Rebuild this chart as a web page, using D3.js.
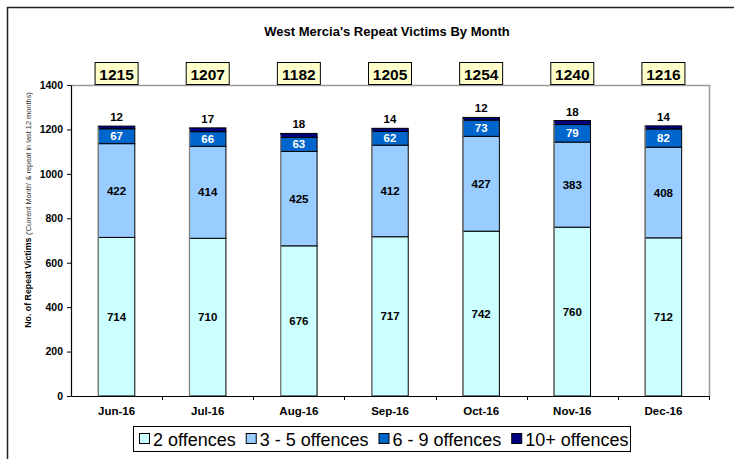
<!DOCTYPE html>
<html>
<head>
<meta charset="utf-8">
<script src="https://cdn.jsdelivr.net/npm/d3@7"></script>
<style>
  body { margin: 0; background: #fff; }
  svg { display: block; font-family: Arial, "Liberation Sans", sans-serif; }
</style>
</head>
<body>
<div id="chart"></div>
<script>
// data
var months = ["Jun-16", "Jul-16", "Aug-16", "Sep-16", "Oct-16", "Nov-16", "Dec-16"];
var twoOff = [714, 710, 676, 717, 742, 760, 712];
var threeToFive = [422, 414, 425, 412, 427, 383, 408];
var sixToNine = [67, 66, 63, 62, 73, 79, 82];
var tenPlus = [12, 17, 18, 14, 12, 18, 14];
var totals = [1215, 1207, 1182, 1205, 1254, 1240, 1216];
var seriesNames = ["2 offences", "3 - 5 offences", "6 - 9 offences", "10+ offences"];
var yTicks = [0, 200, 400, 600, 800, 1000, 1200, 1400];

var colours = ["#CCFFFF", "#99CCFF", "#0066CC", "#000080"];
var labelColours = ["#000", "#000", "#fff", "#000"];

var width = 734, height = 459;
var plot = {left: 71, right: 709, top: 85, bottom: 396};
var font = "Arial, 'Liberation Sans', sans-serif";

var svg = d3.select("#chart").append("svg")
    .attr("width", width)
    .attr("height", height);

// outer frame
svg.append("rect")
    .attr("x", 7.5).attr("y", 7.5)
    .attr("width", 760).attr("height", 480)
    .attr("fill", "none")
    .attr("stroke", "#222")
    .attr("stroke-width", 1.5);

var x = d3.scaleBand().domain(months).range([plot.left, plot.right]).paddingInner(0.6).paddingOuter(0.3);
var xb = d3.scaleBand().domain(months).range([plot.left, plot.right]);
var y = d3.scaleLinear().domain([0, 1400]).range([plot.bottom, plot.top]);

// plot area border (grey top + right)
svg.append("path")
    .attr("d", "M" + plot.left + "," + (plot.top + 0.5) + "H" + (plot.right + 0.5) + "V" + plot.bottom)
    .attr("fill", "none")
    .attr("stroke", "#999")
    .attr("stroke-width", 1.5);

// stack the series
var rows = months.map(function (m, i) {
    return {month: m, s0: twoOff[i], s1: threeToFive[i], s2: sixToNine[i], s3: tenPlus[i]};
});
var stack = d3.stack().keys(["s0", "s1", "s2", "s3"])(rows);

var layers = svg.selectAll("g.layer")
    .data(stack)
    .enter().append("g")
    .attr("class", "layer")
    .attr("fill", function (d, i) { return colours[i]; });

layers.selectAll("rect")
    .data(function (d) { return d; })
    .enter().append("rect")
    .attr("x", function (d) { return x(d.data.month); })
    .attr("y", function (d) { return y(d[1]); })
    .attr("width", x.bandwidth())
    .attr("height", function (d) { return y(d[0]) - y(d[1]); })
    .attr("stroke", "#000")
    .attr("stroke-width", 1);

// grey shade on the left edge of each bar
svg.append("g").selectAll("line")
    .data(months)
    .enter().append("line")
    .attr("x1", function (d) { return x(d); })
    .attr("x2", function (d) { return x(d); })
    .attr("y1", function (d, i) { return y(totals[i]) + 1; })
    .attr("y2", plot.bottom)
    .attr("stroke", "#808080")
    .attr("stroke-width", 1.2);

// segment labels
stack.forEach(function (layer, li) {
    svg.append("g").selectAll("text")
        .data(layer)
        .enter().append("text")
        .attr("x", function (d) { return x(d.data.month) + x.bandwidth() / 2; })
        .attr("y", function (d) {
            if (li === 3) return y(d[1]) - 5;
            return (y(d[0]) + y(d[1])) / 2 + 4;
        })
        .attr("text-anchor", "middle")
        .attr("font-size", "11.5px")
        .attr("font-weight", "bold")
        .attr("fill", labelColours[li])
        .text(function (d) { return d[1] - d[0]; });
});

// total boxes
var tb = svg.append("g").selectAll("g")
    .data(months)
    .enter().append("g")
    .attr("transform", function (d) {
        return "translate(" + (x(d) + x.bandwidth() / 2) + ",0)";
    });
tb.append("rect")
    .attr("x", -21.5).attr("y", 62.5)
    .attr("width", 43).attr("height", 22)
    .attr("fill", "#FFFFCC")
    .attr("stroke", "#000")
    .attr("stroke-width", 1);
tb.append("text")
    .attr("y", 79.5)
    .attr("text-anchor", "middle")
    .attr("font-size", "15.5px")
    .attr("font-weight", "bold")
    .text(function (d, i) { return totals[i]; });

// y axis
var yAxis = svg.append("g")
    .attr("transform", "translate(" + plot.left + ",0)")
    .call(d3.axisLeft(y).tickValues(yTicks).tickFormat(d3.format("d"))
        .tickSize(4).tickSizeOuter(0).tickPadding(4));
yAxis.select(".domain").attr("stroke", "#000").attr("stroke-width", 1.2);
yAxis.selectAll("text").attr("font-size", "10.5px").attr("font-weight", "bold")
    .attr("font-family", font).attr("fill", "#000");

// x axis
var xAxis = svg.append("g")
    .attr("transform", "translate(0," + plot.bottom + ")")
    .call(d3.axisBottom(xb).tickSize(0).tickPadding(11));
xAxis.select(".domain").attr("stroke", "#000").attr("stroke-width", 1.2);
xAxis.selectAll("text").attr("font-size", "11.5px").attr("font-weight", "bold")
    .attr("font-family", font).attr("fill", "#000");
// tick marks between categories
svg.append("g").selectAll("line")
    .data(months)
    .enter().append("line")
    .attr("x1", function (d, i) { return Math.round(xb(d) + xb.step()) + 0.5; })
    .attr("x2", function (d, i) { return Math.round(xb(d) + xb.step()) + 0.5; })
    .attr("y1", plot.bottom)
    .attr("y2", plot.bottom + 4)
    .attr("stroke", "#000");

// title
svg.append("text")
    .attr("x", 387).attr("y", 36)
    .attr("text-anchor", "middle")
    .attr("font-size", "13px")
    .attr("font-weight", "bold")
    .text("West Mercia's Repeat Victims By Month");

// y axis title
var yt = svg.append("text")
    .attr("transform", "translate(31,210) rotate(-90)")
    .attr("text-anchor", "middle");
yt.append("tspan").attr("font-size", "8.8px").attr("font-weight", "bold").text("No. of Repeat Victims ");
yt.append("tspan").attr("font-size", "7.4px").attr("fill", "#333").text("('Current Month' & repeat in last 12 months)");

// legend
var legend = svg.append("g");
legend.append("rect")
    .attr("x", 133.5).attr("y", 426.5)
    .attr("width", 497).attr("height", 25)
    .attr("fill", "#fff")
    .attr("stroke", "#000");
var lx = 139;
seriesNames.forEach(function (name, i) {
    legend.append("rect")
        .attr("x", lx + 0.5).attr("y", 433.5)
        .attr("width", 10).attr("height", 10)
        .attr("fill", colours[i])
        .attr("stroke", "#000");
    var t = legend.append("text")
        .attr("x", lx + 14).attr("y", 446)
        .attr("font-size", "18px")
        .text(name);
    lx += 14 + t.node().getComputedTextLength() + 10;
});
</script>
</body>
</html>
